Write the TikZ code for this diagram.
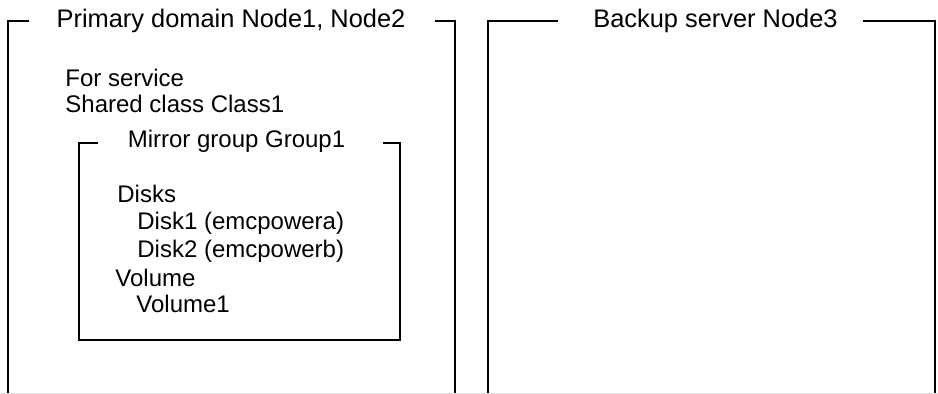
\documentclass[tikz,border=0pt]{standalone}
\usepackage{fontspec}
\setmainfont{Liberation Sans}
\usepackage{tikz}

\tikzset{
	frameline/.style={line width=0.75pt},
	label/.style={inner sep=0pt,anchor=base west,font=\fontsize{12}{14}\selectfont},
	title/.style={label,anchor=base},
	bigtitle/.style={title,font=\fontsize{12.7}{15}\selectfont}
}

\begin{document}
\begin{tikzpicture}[x=0.5pt,y=0.5pt]
					\useasboundingbox (0,0) rectangle (938,394);
					\draw[gray!20] (0,1) -- (938,1);
					
					% primary domain
					\draw[frameline] (29,373) -- (8,373) -- (8,1);
					\draw[frameline] (435,373) -- (455,373) -- (455,1);
					\node[bigtitle] (primary) at (231,366) {Primary domain Node1, Node2};
					\node[label] (service) at (65,307) {For service};
					\node[label] (class) at (65,281) {Shared class Class1};
					
					% mirror group
					\draw[frameline] (98,251) -- (79,251) -- (79,54) -- (400,54) -- (400,251) -- (383,251);
					\node[title] (group) at (236.5,246) {Mirror group Group1};
					\node[label] (disks) at (117,191) {Disks};
					\node[label] (disk1) at (137,164) {Disk1 (emcpowera)};
					\node[label] (disk2) at (137,136) {Disk2 (emcpowerb)};
					\node[label] (volume) at (115,107) {Volume};
					\node[label] (volume1) at (136,81) {Volume1};
					
					% backup server
					\draw[frameline] (558,373) -- (488,373) -- (488,1);
					\draw[frameline] (863,373) -- (935,373) -- (935,1);
					\node[bigtitle] (backup) at (715.5,366) {Backup server Node3};
				\end{tikzpicture}
\end{document}
